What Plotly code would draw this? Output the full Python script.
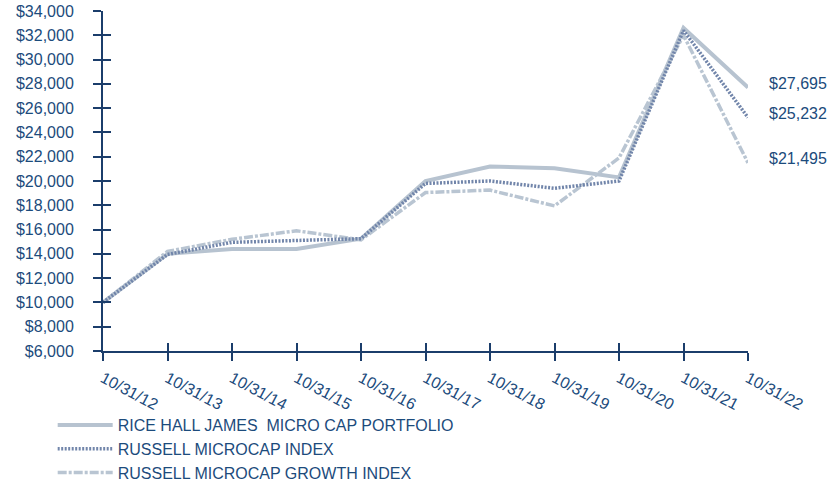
import plotly.graph_objects as go

dates = ["10/31/12", "10/31/13", "10/31/14", "10/31/15", "10/31/16", "10/31/17",
         "10/31/18", "10/31/19", "10/31/20", "10/31/21", "10/31/22"]
rhj = [10000, 14000, 14400, 14400, 15250, 20000, 21200, 21050, 20300, 32600, 27695]
rmc = [10000, 13950, 14950, 15100, 15250, 19800, 20000, 19400, 20000, 32400, 25232]
rmg = [10000, 14200, 15200, 15900, 15150, 19050, 19250, 17950, 21900, 32000, 21495]
end_labels = ["$27,695", "$25,232", "$21,495"]
names = ["RICE HALL JAMES  MICRO CAP PORTFOLIO", "RUSSELL MICROCAP INDEX",
         "RUSSELL MICROCAP GROWTH INDEX"]
yticks = list(range(6000, 34001, 2000))
ytick_text = [f"${v:,}" for v in yticks]

xs = list(range(len(dates)))
TXT = "#1c4b7c"
AX = "#1b3d6b"
FONT = "Liberation Sans, Arial, sans-serif"

fig = go.Figure()
fig.add_trace(go.Scatter(x=xs, y=rhj, name=names[0], mode="lines", legendgroup="a",
                         line=dict(color="#b7c3d0", width=4), cliponaxis=False, legendrank=1))
fig.add_trace(go.Scatter(x=xs, y=rmg, name=names[2], mode="lines", legendgroup="c",
                         line=dict(color="#b9c5d2", width=3.5, dash="9px,2px,3px,2px"),
                         cliponaxis=False, legendrank=3))
fig.add_trace(go.Scatter(x=xs, y=rmc, name=names[1], mode="lines", legendgroup="b",
                         line=dict(color="#7185aa", width=3.5, dash="2px,1.5px"),
                         cliponaxis=False, legendrank=2))
fig.add_trace(go.Scatter(x=[None], y=[None], xaxis="x2", yaxis="y2", showlegend=False,
                         hoverinfo="skip"))

for val, lab in zip([rhj[-1], rmc[-1], rmg[-1]], end_labels):
    fig.add_annotation(x=xs[-1], y=val, text=lab, showarrow=False, xanchor="left",
                       xshift=19, yshift=4, font=dict(family=FONT, size=16, color=TXT))

fig.update_layout(
    width=840, height=490,
    margin=dict(l=103, r=92, t=11, b=139),
    plot_bgcolor="white", paper_bgcolor="white",
    font=dict(family=FONT, color=TXT),
    xaxis=dict(range=[0, len(dates) - 1], tickvals=xs, ticktext=dates, tickangle=28,
               showgrid=False, zeroline=False, showline=True, linecolor=AX, linewidth=2,
               ticks="outside", ticklen=8, tickwidth=2, tickcolor=AX, automargin=False,
               tickfont=dict(size=16, color=TXT, family=FONT), ticklabelstandoff=2),
    yaxis=dict(range=[6000, 34000], tickvals=yticks, ticktext=ytick_text,
               showgrid=False, zeroline=False, showline=True, linecolor=AX, linewidth=2,
               ticks="outside", ticklen=8, tickwidth=2, tickcolor=AX, automargin=False,
               tickfont=dict(size=16, color=TXT, family=FONT), ticklabelstandoff=16),
    xaxis2=dict(overlaying="x", anchor="y2", range=[0, len(dates) - 1], tickvals=xs,
                showticklabels=False, showgrid=False, zeroline=False, showline=False,
                ticks="inside", ticklen=8, tickwidth=2, tickcolor=AX, automargin=False),
    yaxis2=dict(overlaying="y", anchor="x2", range=[6000, 34000], tickvals=yticks,
                showticklabels=False, showgrid=False, zeroline=False, showline=False,
                ticks="inside", ticklen=8, tickwidth=2, tickcolor=AX, automargin=False),
    legend=dict(xref="paper", yref="container", x=-0.078, y=0.0,
                xanchor="left", yanchor="bottom", orientation="v",
                font=dict(size=16, color=TXT, family=FONT), itemwidth=55,
                tracegroupgap=0, bgcolor="rgba(0,0,0,0)"),
)
fig.write_html("out.html")
